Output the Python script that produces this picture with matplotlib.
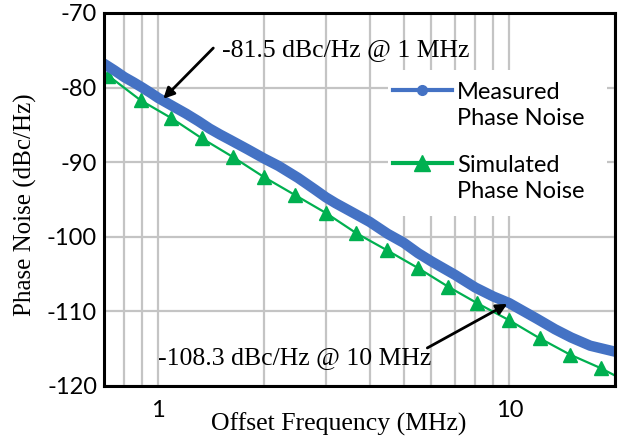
#!/usr/bin/env python3
# -*- coding: utf-8 -*-

"""
Phase noise of the oscillator: measured vs. simulated, log offset axis.
"""

import matplotlib
matplotlib.use("Agg")
import matplotlib.pyplot as plt
from matplotlib.lines import Line2D
from matplotlib.patches import Rectangle
from matplotlib.ticker import FixedLocator, NullFormatter

# ===============================
# Data
# ===============================

meas_freq = [0.70, 0.75, 0.80, 0.85, 0.90, 0.95, 1.00, 1.10, 1.20, 1.30,
             1.40, 1.50, 1.60, 1.80, 2.00, 2.20, 2.50, 2.80, 3.00, 3.20,
             3.50, 4.00, 4.50, 5.00, 5.50, 6.00, 7.00, 8.00, 9.00, 10.0,
             11.0, 12.0, 13.5, 15.0, 17.0, 20.0]
meas_pn = [-76.8, -77.7, -78.6, -79.3, -80.0, -80.7, -81.4, -82.5, -83.5, -84.5,
           -85.5, -86.3, -87.0, -88.3, -89.5, -90.5, -92.1, -93.7, -94.7, -95.5,
           -96.5, -98.0, -99.6, -100.8, -102.2, -103.3, -105.1, -106.8, -108.0, -108.9,
           -110.0, -111.0, -112.4, -113.5, -114.6, -115.4]

sim_freq = [0.72, 0.89, 1.09, 1.33, 1.63, 2.0, 2.45, 3.0, 3.66, 4.48,
            5.5, 6.7, 8.1, 10.0, 12.2, 14.9, 18.2, 20.0]
sim_pn = [-78.4, -81.7, -84.1, -86.8, -89.3, -92.0, -94.4, -96.8, -99.5, -101.8,
          -104.2, -106.7, -108.9, -111.2, -113.6, -115.8, -117.6, -118.6]
n_sim_markers = 17  # last point is only the line running into the frame

yticks = [-120, -110, -100, -90, -80, -70]
xgrid = [0.8, 0.9, 1, 2, 3, 4, 5, 6, 7, 8, 9, 10, 20]

note_1mhz = "-81.5 dBc/Hz @ 1 MHz"
note_10mhz = "-108.3 dBc/Hz @ 10 MHz"

blue = "#4472C4"
green = "#00B050"
serif = "Liberation Serif"
sans = "Lato"

# ===============================
# Plot
# ===============================

fig = plt.figure(figsize=(6.29, 4.43), dpi=100)
ax = fig.add_axes([0.1653, 0.1287, 0.8124, 0.842])

ax.plot(sim_freq, sim_pn, color=green, lw=1.6, zorder=3)
ax.plot(sim_freq[:n_sim_markers], sim_pn[:n_sim_markers], ls="none",
        marker="^", ms=10, color=green, zorder=3)
ax.plot(meas_freq, meas_pn, color=blue, lw=7.5, solid_capstyle="round", zorder=4)

ax.set_xscale("log")
ax.set_xlim(0.7, 20)
ax.set_ylim(-120, -70)
ax.xaxis.set_major_locator(FixedLocator([1, 10]))
ax.xaxis.set_minor_locator(FixedLocator(xgrid))
ax.xaxis.set_minor_formatter(NullFormatter())
ax.set_xticks([1, 10])
ax.set_xticklabels(["1", "10"])
ax.set_yticks(yticks)
ax.set_yticklabels([str(v) for v in yticks])
ax.tick_params(which="both", length=0)
ax.tick_params(axis="x", pad=10)
ax.tick_params(axis="y", pad=5)
for lab in ax.get_xticklabels() + ax.get_yticklabels():
    lab.set_fontfamily(sans)
    lab.set_fontsize(17)

ax.grid(True, which="both", color="#C4C4C4", lw=1.6)
ax.set_axisbelow(True)
for sp in ax.spines.values():
    sp.set_linewidth(2.2)
    sp.set_color("black")
    sp.set_zorder(7)

ax.set_ylabel("Phase Noise (dBc/Hz)", fontfamily=serif, fontsize=18)
ax.set_xlabel("Offset Frequency (MHz)", fontfamily=serif, fontsize=18.5)
ax.yaxis.set_label_coords(-0.132, 0.485)
ax.xaxis.set_label_coords(0.46, -0.07)

# annotations
arrow = dict(arrowstyle="-|>", color="black", lw=2, mutation_scale=16,
             shrinkA=0, shrinkB=0)
ax.text(1.52, -74.9, note_1mhz, fontfamily=serif, fontsize=18.5,
        va="center", ha="left", zorder=6)
ax.annotate("", xy=(1.033, -81.5), xytext=(1.434, -74.7),
            arrowprops=arrow, zorder=6)
ax.text(0.995, -116.2, note_10mhz, fontfamily=serif, fontsize=18.5,
        va="center", ha="left", zorder=6)
ax.annotate("", xy=(9.87, -109.0), xytext=(5.84, -114.9),
            arrowprops=arrow, zorder=6)

# legend drawn by hand: handle sits level with the first line of each label
ta = ax.transAxes
ax.add_patch(Rectangle((0.556, 0.456), 0.428, 0.391, transform=ta,
                       facecolor="white", edgecolor="none", zorder=2.5))
entries = [("Measured\nPhase Noise", blue, "o", 7, 0.7936, 0.751),
           ("Simulated\nPhase Noise", green, "^", 12, 0.5979, 0.556)]
for label, col, mk, ms, yh, yt in entries:
    ax.add_line(Line2D([0.5656, 0.681], [yh, yh], transform=ta, color=col,
                       lw=3, zorder=5))
    ax.add_line(Line2D([0.623], [yh], transform=ta, color=col, marker=mk,
                       ms=ms, ls="none", zorder=5))
    ax.text(0.691, yt, label, transform=ta, fontfamily=sans, fontsize=17,
            va="center", ha="left", linespacing=1.3, zorder=5)

fig.savefig("out.png", dpi=100)
